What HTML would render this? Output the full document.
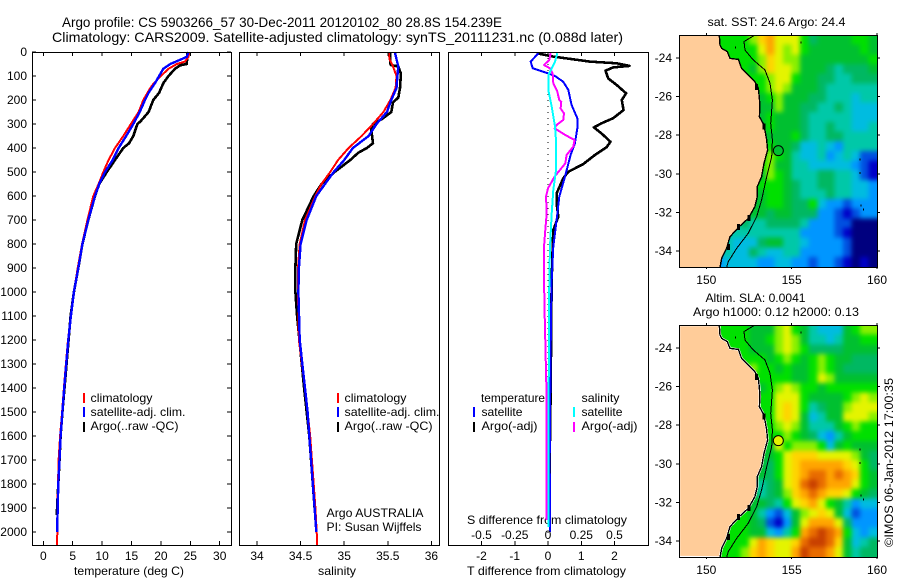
<!DOCTYPE html>
<html lang="en">
<head>
<meta charset="utf-8">
<title>Argo profile chart</title>
<style>
html,body{margin:0;padding:0;background:#fff;}
svg{display:block;}
text{font-family:"Liberation Sans",sans-serif;font-size:12px;fill:#000;}
.crisp{shape-rendering:crispEdges;}
</style>
</head>
<body>
<svg id="chart" xmlns="http://www.w3.org/2000/svg" width="900" height="580" viewBox="0 0 900 580">
  <defs>
    <filter id="soften" x="-5%" y="-5%" width="110%" height="110%" color-interpolation-filters="sRGB">
      <feGaussianBlur stdDeviation="2.4"/>
      <feComponentTransfer><feFuncA type="linear" slope="60"/></feComponentTransfer>
    </filter>
    <clipPath id="clip-sst-map"><rect x="679" y="35" width="199" height="233"/></clipPath>
    <clipPath id="clip-sla-map"><rect x="679" y="325" width="199" height="233"/></clipPath>
  </defs>
  <text x="62" y="27" style="font-size:14px" textLength="440" lengthAdjust="spacingAndGlyphs">Argo profile: CS 5903266_57 30-Dec-2011 20120102_80 28.8S 154.239E</text>
  <text x="52" y="42" style="font-size:14px" textLength="571" lengthAdjust="spacingAndGlyphs">Climatology: CARS2009. Satellite-adjusted climatology: synTS_20111231.nc (0.088d later)</text>

  <text x="74" y="575" textLength="110" lengthAdjust="spacingAndGlyphs">temperature (deg C)</text>
  <text x="318" y="575" textLength="38" lengthAdjust="spacingAndGlyphs">salinity</text>
  <text x="467" y="575" textLength="159" lengthAdjust="spacingAndGlyphs">T difference from climatology</text>
  <text x="467" y="524" textLength="160" lengthAdjust="spacingAndGlyphs">S difference from climatology</text>

  <text x="90.5" y="402" textLength="62" lengthAdjust="spacingAndGlyphs">climatology</text>
  <text x="90.5" y="416" textLength="95" lengthAdjust="spacingAndGlyphs">satellite-adj. clim.</text>
  <text x="90.5" y="430" textLength="88" lengthAdjust="spacingAndGlyphs">Argo(..raw -QC)</text>
  <text x="344.5" y="402" textLength="62" lengthAdjust="spacingAndGlyphs">climatology</text>
  <text x="344.5" y="416" textLength="95" lengthAdjust="spacingAndGlyphs">satellite-adj. clim.</text>
  <text x="344.5" y="430" textLength="88" lengthAdjust="spacingAndGlyphs">Argo(..raw -QC)</text>
  <text x="326.5" y="517" textLength="97" lengthAdjust="spacingAndGlyphs">Argo AUSTRALIA</text>
  <text x="326.5" y="531" textLength="95" lengthAdjust="spacingAndGlyphs">PI: Susan Wijffels</text>

  <text x="481" y="402" textLength="64" lengthAdjust="spacingAndGlyphs">temperature</text>
  <text x="481.5" y="416" textLength="41" lengthAdjust="spacingAndGlyphs">satellite</text>
  <text x="481.5" y="430" textLength="56" lengthAdjust="spacingAndGlyphs">Argo(-adj)</text>
  <text x="581.5" y="402" textLength="38" lengthAdjust="spacingAndGlyphs">salinity</text>
  <text x="581.5" y="416" textLength="41" lengthAdjust="spacingAndGlyphs">satellite</text>
  <text x="581.5" y="430" textLength="56" lengthAdjust="spacingAndGlyphs">Argo(-adj)</text>

  <text x="707.5" y="26" textLength="138" lengthAdjust="spacingAndGlyphs">sat. SST: 24.6 Argo: 24.4</text>
  <text x="705.5" y="302" textLength="100" lengthAdjust="spacingAndGlyphs">Altim. SLA: 0.0041</text>
  <text x="693" y="316" textLength="166" lengthAdjust="spacingAndGlyphs">Argo h1000: 0.12 h2000: 0.13</text>
  <text transform="translate(893,547) rotate(-90)" x="0" y="0" textLength="169" lengthAdjust="spacingAndGlyphs">©IMOS 06-Jan-2012 17:00:35</text>
</svg>

<script>
/* ---------- profile data ---------- */
const depthTicks = [0,100,200,300,400,500,600,700,800,900,1000,1100,1200,1300,1400,1500,1600,1700,1800,1900,2000];
const tempTicks = [0,5,10,15,20,25,30];
const salTicks = [34,34.5,35,35.5,36];
const tDiffTicks = [-2,-1,0,1,2];
const sDiffTicks = [-0.5,-0.25,0,0.25,0.5];
const sDiffTickLabels = ['-0.5','-0.25','0','0.25','0.5'];
const zeroLineDepths = [0,2054];
const zeroLineValues = [0,0];

const climTempDepths = [0,20,40,50,70,100,130,150,200,250,300,350,400,450,500,550,600,700,800,900,1000,1100,1200,1300,1400,1500,1600,1700,1800,1900,2000,2054];
const climTempValues = [24.84,24.7,24.1,22.7,21.3,20.0,18.8,18.2,17.0,16.2,14.9,13.6,12.2,11.1,10.2,9.4,8.5,7.5,6.6,5.85,5.2,4.7,4.2,3.85,3.5,3.2,2.85,2.6,2.5,2.4,2.4,2.3];
const satTempDepths = [0,20,30,50,70,100,130,170,200,250,300,350,400,450,500,550,600,700,800,900,1000,1100,1200,1300,1400,1500,1600,1700,1800,1900,2000];
const satTempValues = [24.7,24.4,23.5,21.6,20.4,19.7,19,17.9,17.3,16.4,15.3,14.1,12.8,11.8,10.5,9.5,8.8,7.66,6.65,5.95,5.2,4.7,4.25,3.9,3.55,3.25,2.95,2.75,2.55,2.45,2.35];
const argoTempDepths = [0,50,55,70,100,130,170,200,250,290,300,350,380,400,450,500,550,600,700,800,900,1000,1100,1400,1500,1600,1700,1800,1900,1930];
const argoTempValues = [24.5,24.4,23.3,22.4,21.3,20.4,19.7,18.7,17.9,16.5,16,15.3,14.6,13.6,12.2,10.8,9.5,8.8,7.66,6.65,5.95,5.2,4.65,3.6,3.25,2.95,2.75,2.55,2.35,2.3];

const climSalDepths = [0,30,60,100,150,200,250,300,350,400,450,500,550,600,700,800,900,1000,1200,1400,1500,1600,1700,1800,1900,2000,2054];
const climSalValues = [35.51,35.52,35.56,35.6,35.59,35.53,35.45,35.33,35.2,35.05,34.93,34.84,34.74,34.67,34.55,34.49,34.47,34.47,34.48,34.55,34.58,34.61,34.63,34.65,34.67,34.685,34.69];
const satSalDepths = [0,30,60,100,150,200,250,300,350,400,450,500,550,600,700,800,900,1000,1200,1400,1500,1600,1700,1800,1900,2000];
const satSalValues = [35.58,35.6,35.62,35.61,35.6,35.54,35.49,35.37,35.28,35.1,35.0,34.88,34.78,34.68,34.57,34.5,34.48,34.475,34.49,34.55,34.58,34.6,34.62,34.64,34.66,34.68];
const argoSalDepths = [0,50,55,60,90,150,190,210,250,280,300,320,380,400,420,450,500,550,600,700,800,900,1000,1100,1400,1600,1900,1930];
const argoSalValues = [35.53,35.53,35.54,35.62,35.65,35.64,35.62,35.56,35.54,35.43,35.33,35.31,35.33,35.26,35.16,35.07,34.89,34.74,34.65,34.52,34.45,34.44,34.44,34.46,34.54,34.6,34.66,34.67];

const satTDiffDepths = [5,40,68,89,100,124,158,221,276,311,381,429,519,603,700,811,950,1100,1400,1700,2000];
const satTDiffValues = [-0.29,-0.52,-0.46,0.01,0.21,0.46,0.61,0.71,0.88,0.89,0.81,0.68,0.51,0.34,0.26,0.16,0.11,0.09,0.07,0.05,0.06];
const argoTDiffDepths = [5,19,40,47,58,64,78,110,138,172,200,242,276,297,314,339,374,397,429,467,499,526,589,631,686,742,811,950,1100,1400,1700,1900];
const argoTDiffValues = [-0.34,0.16,1.26,2.07,2.45,1.96,1.73,1.81,2.07,2.35,2.22,2.27,1.96,1.61,1.38,1.61,1.88,1.76,1.41,1.06,0.61,0.46,0.26,0.26,0.31,0.16,0.14,0.11,0.1,0.08,0.05,0.04];
const argoSDiffDepths = [5,33,54,68,89,131,165,200,207,235,256,283,304,318,346,367,394,429,464,519,568,603,672,742,811,950,1100,1400,1700,1950];
const argoSDiffValues = [0.02,0.01,-0.03,0.015,0.035,0.04,0.07,0.085,0.10,0.095,0.12,0.115,0.065,0.05,0.13,0.20,0.19,0.14,0.13,0.05,0.0,-0.015,-0.01,-0.02,-0.03,-0.03,-0.025,-0.012,-0.012,-0.012];
const satSDiffDepths = [5,40,68,96,158,228,311,367,492,575,672,811,950,1400,1980];
const satSDiffValues = [0.07,0.053,0.028,0.0025,0.0025,0.028,0.053,0.06,0.06,0.04,0.028,0.015,0.01,0.005,0.005];

/* ---------- map data ---------- */
const lonTicks = [150,155,160];
const latTicks = [-24,-26,-28,-30,-32,-34];
const firstCellLon = 150.5;
const firstCellLat = -22.81;
const cellDegrees = 0.5;
const argoLon = 154.22;
const argoLat = -28.8;
const argoSstLevel = 7;
const argoSlaLevel = 10;

const sstLevels = [
[8,8,8,8,9,11,12,10,10,10,8,6,7,7,7,7,8,8,7],
[8,8,8,8,8,10,12,10,9,10,8,7,7,7,7,7,7,8,7],
[8,8,8,8,8,9,11,10,9,9,7,7,7,7,7,7,7,7,8],
[8,8,8,8,7,9,11,10,10,9,7,7,7,6,5,6,6,6,7],
[8,8,8,8,8,8,9,10,10,8,7,7,6,6,5,5,6,6,6],
[8,8,8,8,8,8,9,10,9,7,7,7,6,5,5,5,5,5,5],
[8,8,8,7,7,7,8,9,7,7,7,6,6,5,5,5,4,5,5],
[8,8,8,7,7,7,7,9,7,7,6,6,5,5,6,5,4,4,4],
[8,8,8,7,7,7,8,7,7,7,6,5,5,5,5,5,4,4,4],
[8,8,8,7,7,7,8,7,7,7,6,5,5,6,5,5,4,4,5],
[8,8,8,7,7,7,7,7,7,8,6,5,5,6,6,5,5,5,5],
[8,8,8,7,7,7,8,7,7,6,4,4,5,4,3,5,5,5,5],
[8,8,8,7,7,7,9,8,7,5,4,4,5,3,4,5,4,2,2],
[8,8,8,7,7,8,9,7,7,5,5,4,4,4,4,4,3,2,1],
[8,8,8,7,7,7,9,8,7,5,5,5,6,6,5,5,4,2,1],
[8,8,8,7,7,8,8,8,7,6,5,5,6,6,5,5,4,4,3],
[8,8,8,7,7,7,8,8,7,6,5,5,5,6,5,5,4,4,3],
[8,8,8,7,7,7,8,8,7,6,6,8,4,3,3,2,3,3,3],
[8,8,8,7,7,7,6,7,7,6,6,6,3,3,2,1,2,3,3],
[5,5,5,6,5,5,6,6,6,6,5,3,3,3,2,2,0,0,0],
[5,5,5,5,5,5,5,5,5,5,3,3,3,3,2,1,0,0,0],
[5,5,4,4,4,6,7,7,5,5,4,3,3,3,3,2,0,0,0],
[4,5,4,4,6,5,4,4,5,5,3,3,3,3,3,2,0,0,0],
[3,4,4,4,4,3,3,4,4,3,3,2,3,3,2,1,0,1,0]
];
const slaLevels = [
[8,8,8,8,7,7,7,9,10,8,7,5,4,4,4,7,8,9,9],
[8,8,8,8,7,7,8,9,10,9,7,5,5,4,5,7,7,8,8],
[8,8,8,8,7,7,7,9,10,9,8,6,6,6,6,7,7,7,7],
[8,8,8,8,8,8,7,8,9,8,7,8,9,8,7,7,6,6,6],
[8,8,8,8,9,8,8,7,8,7,7,8,9,8,7,6,6,6,6],
[8,8,8,8,8,8,8,8,8,7,7,8,10,9,7,7,7,7,7],
[8,8,8,8,8,7,8,9,10,9,8,8,7,8,8,8,8,8,8],
[8,8,8,8,8,8,8,10,10,10,8,7,7,7,7,8,9,10,9],
[8,8,8,8,8,8,8,10,11,10,8,5,6,7,7,9,10,10,10],
[8,8,8,8,8,8,8,10,11,10,7,4,5,7,7,10,10,10,9],
[8,8,8,8,8,8,8,9,10,9,7,5,5,5,7,8,9,8,8],
[8,8,8,8,8,8,8,8,9,8,7,6,4,3,5,7,8,8,8],
[8,8,8,8,8,8,7,10,8,9,9,9,8,4,7,8,7,7,7],
[8,8,8,8,7,7,7,8,10,11,11,11,10,10,10,10,9,7,6],
[8,8,8,8,7,7,6,8,10,11,12,12,12,12,12,11,10,8,6],
[8,8,8,8,7,7,6,8,10,11,12,13,13,12,13,12,11,8,7],
[8,8,8,8,7,5,6,7,10,11,13,14,13,12,12,12,10,8,7],
[8,8,8,8,7,5,6,7,9,11,12,13,12,11,11,10,8,7,6],
[8,8,8,8,7,7,6,5,8,10,11,12,10,8,7,5,3,4,4],
[8,8,8,8,7,5,3,2,4,7,9,10,11,10,7,4,2,3,3],
[8,8,8,8,7,6,2,1,3,7,10,12,12,12,10,6,3,3,3],
[8,8,8,8,7,7,4,3,5,8,12,13,14,13,12,8,4,3,4],
[8,8,8,8,10,12,11,10,10,11,13,14,14,13,11,7,4,5,6],
[8,8,8,9,11,12,11,10,10,12,14,13,13,12,10,7,5,6,6]
];
const coastLons = [150.76,150.80,150.90,151.23,151.39,151.88,152.07,152.56,152.85,153.05,153.11,153.14,153.11,153.38,153.54,153.59,153.38,153.24,152.99,152.99,152.85,152.46,151.93,151.39,151.19,150.90,150.80];
const coastLats = [-22.81,-23.33,-23.50,-23.67,-24.02,-24.07,-24.54,-24.97,-25.23,-25.57,-26.09,-26.52,-27.04,-27.47,-28.25,-28.77,-29.46,-30.15,-30.67,-31.18,-31.70,-32.31,-32.74,-33.26,-33.86,-34.38,-34.85];
const isobathLons = [152.85,152.21,152.27,152.75,153.44,153.73,153.87,153.77,153.87,153.83,153.54,153.24,152.95,152.46,151.78,151.29,151.19];
const isobathLats = [-22.81,-23.15,-23.59,-24.10,-24.62,-25.31,-26.18,-27.39,-28.25,-29.11,-30.15,-31.36,-32.22,-33.08,-33.86,-34.55,-34.85];
const reefLons = [152.95,153.38,151.29,151.9,152.5,159.0,159.0,159.05,159.2,155.55,151.7];
const reefLats = [-25.5,-27.55,-33.8,-32.75,-32.3,-29.25,-29.95,-31.65,-31.85,-23.2,-23.45];

const levelColors = ['#00007f','#0000c8','#0050e0','#0096ff','#00bce0','#00c8a8','#00b862','#00c030','#00e000','#88f000','#e4f400','#ffd400','#ffa500','#e86c00','#c84000'];
const landColor = '#ffcc99';

/* ---------- axis functions ---------- */
const svg = document.getElementById('chart');
const NS = 'http://www.w3.org/2000/svg';
function make(tag, attrs, parent) {
  const n = document.createElementNS(NS, tag);
  for (const k in attrs) n.setAttribute(k, attrs[k]);
  (parent || svg).appendChild(n);
  return n;
}
const top0 = 52, bottom0 = 545;
const yDepth = d => top0 + d * 0.24;
const xTemp = t => 43.3 + t * 5.88;
const xSal = s => 257 + (s - 34) * 87.2;
const xTD = t => 548 + t * 33.25;
const xSD = s => 548 + s * 133;

function seriesLine(name, xf, depths, values, color, width, dash) {
  const pts = depths.map((d, i) => xf(values[i]).toFixed(1) + ',' + yDepth(d).toFixed(1)).join(' ');
  const line = make('polyline', {points: pts, fill: 'none', stroke: color, 'stroke-width': width, 'stroke-linejoin': 'round', class: 'crisp'});
  if (dash) line.setAttribute('stroke-dasharray', dash);
  
  
}
function tick(name, x1, y1, x2, y2) {
  const t = make('line', {x1: x1, y1: y1, x2: x2, y2: y2, stroke: '#000', 'stroke-width': 1, class: 'crisp'});
  
  
}
function label(name, x, y, str, anchor) {
  const t = make('text', {x: x, y: y, 'text-anchor': anchor || 'middle'});
  t.textContent = str;
  
  
}
function frame(name, x, y, w, h) {
  const f = make('rect', {x: x + 0.5, y: y + 0.5, width: w, height: h, fill: 'none', stroke: '#000', 'stroke-width': 1, class: 'crisp'});
  
  
}
function legendBar(name, x, y, color) {
  const b = make('rect', {x: x, y: y, width: 2, height: 10, fill: color, class: 'crisp'});
  
  
}

/* ---------- panel 1: temperature ---------- */
seriesLine('argo-temperature-line', xTemp, argoTempDepths, argoTempValues, '#000', 2.6);
seriesLine('climatology-temperature-line', xTemp, climTempDepths, climTempValues, '#ff0000', 2);
seriesLine('satellite-temperature-line', xTemp, satTempDepths, satTempValues, '#0000ff', 2.4);
frame('temperature-panel-frame', 32, 52, 199, 493);
depthTicks.forEach(d => {
  tick('depth-tick-left', 32, yDepth(d), 36, yDepth(d));
  tick('depth-tick-right', 227, yDepth(d), 231, yDepth(d));
  label('depth-tick-label', 27, yDepth(d) + 4, String(d), 'end');
});
tempTicks.forEach(t => {
  tick('temperature-tick-top', xTemp(t), 52, xTemp(t), 56);
  tick('temperature-tick-bottom', xTemp(t), 541, xTemp(t), 545);
  label('temperature-tick-label', xTemp(t), 560, String(t));
});
legendBar('legend-climatology-swatch', 83, 393, '#ff0000');
legendBar('legend-satellite-swatch', 83, 407, '#0000ff');
legendBar('legend-argo-swatch', 83, 422, '#000');

/* ---------- panel 2: salinity ---------- */
seriesLine('argo-salinity-line', xSal, argoSalDepths, argoSalValues, '#000', 2.6);
seriesLine('climatology-salinity-line', xSal, climSalDepths, climSalValues, '#ff0000', 2);
seriesLine('satellite-salinity-line', xSal, satSalDepths, satSalValues, '#0000ff', 2.4);
frame('salinity-panel-frame', 239, 52, 200, 493);
salTicks.forEach(s => {
  tick('salinity-tick-top', xSal(s), 52, xSal(s), 56);
  tick('salinity-tick-bottom', xSal(s), 541, xSal(s), 545);
  label('salinity-tick-label', xSal(s), 560, String(s));
});
legendBar('legend-climatology-swatch-2', 337, 393, '#ff0000');
legendBar('legend-satellite-swatch-2', 337, 407, '#0000ff');
legendBar('legend-argo-swatch-2', 337, 422, '#000');

/* ---------- panel 3: differences ---------- */
seriesLine('zero-difference-line', xTD, zeroLineDepths, zeroLineValues, '#000', 1, '1 5');
seriesLine('argo-t-difference-line', xTD, argoTDiffDepths, argoTDiffValues, '#000', 2.6);
seriesLine('satellite-t-difference-line', xTD, satTDiffDepths, satTDiffValues, '#0000ff', 2);
seriesLine('argo-s-difference-line', xSD, argoSDiffDepths, argoSDiffValues, '#ff00ff', 2);
seriesLine('satellite-s-difference-line', xSD, satSDiffDepths, satSDiffValues, '#00ffff', 2);
frame('difference-panel-frame', 448, 52, 200, 493);
tDiffTicks.forEach(t => {
  tick('t-difference-tick-top', xTD(t), 52, xTD(t), 56);
  tick('t-difference-tick-bottom', xTD(t), 541, xTD(t), 545);
  label('t-difference-tick-label', xTD(t), 560, String(t));
});
sDiffTicks.forEach((s, i) => {
  label('s-difference-tick-label', xSD(s), 539, sDiffTickLabels[i]);
});
legendBar('legend-t-satellite-swatch', 473, 407, '#0000ff');
legendBar('legend-t-argo-swatch', 473, 422, '#000');
legendBar('legend-s-satellite-swatch', 573, 407, '#00ffff');
legendBar('legend-s-argo-swatch', 573, 422, '#ff00ff');

/* ---------- maps ---------- */
function drawMap(prefix, top, levels, circleLevel, fringe) {
  const xLon = lon => 706.3 + (lon - 150) * 17.07;
  const yLat = lat => top + 23 + (-24 - lat) * 19.3;
  const left = 679, right = 877, bottom = top + 232;

  const clipGroup = make('g', {'clip-path': 'url(#clip-' + prefix + ')'});
  
  
  const cells = make('g', {filter: 'url(#soften)'}, clipGroup);
  
  

  levels.forEach((row, r) => {
    row.forEach((v, c) => {
      const x0 = xLon(firstCellLon + c * cellDegrees);
      const x1 = xLon(firstCellLon + (c + 1) * cellDegrees);
      const y0 = yLat(firstCellLat - r * cellDegrees);
      const y1 = yLat(firstCellLat - (r + 1) * cellDegrees);
      const cell = make('rect', {x: x0.toFixed(1), y: y0.toFixed(1), width: (x1 - x0 + 0.5).toFixed(1), height: (y1 - y0 + 0.3).toFixed(1), fill: levelColors[v], class: 'crisp'}, cells);
      
      
    });
  });

  const coastPts = coastLons.map((lon, i) => xLon(lon).toFixed(1) + ',' + yLat(coastLats[i]).toFixed(1));
  const land = make('polygon', {points: [left + ',' + top].concat(coastPts, [left + ',' + bottom]).join(' '), fill: landColor, stroke: fringe ? '#fff' : 'none', 'stroke-width': fringe ? 2.4 : 0});
  
  

  const coast = make('polyline', {points: coastPts.join(' '), fill: 'none', stroke: '#000', 'stroke-width': 1.4, class: 'crisp'});
  
  

  const iso = make('polyline', {points: isobathLons.map((lon, i) => xLon(lon).toFixed(1) + ',' + yLat(isobathLats[i]).toFixed(1)).join(' '), fill: 'none', stroke: '#000', 'stroke-width': 1, class: 'crisp'});
  
  

  reefLons.forEach((lon, i) => {
    const big = i < 5;
    const reef = make('rect', {x: (xLon(lon) - (big ? 1.5 : 0.5)).toFixed(1), y: (yLat(reefLats[i]) - (big ? 3 : 1)).toFixed(1), width: big ? 3 : 1, height: big ? 6 : 2, fill: '#000', class: 'crisp'});
    
    
  });

  const marker = make('circle', {cx: xLon(argoLon), cy: yLat(argoLat), r: 5, fill: levelColors[circleLevel], stroke: '#000', 'stroke-width': 1});
  
  

  frame(prefix + '-frame', left, top, right - left, 232);

  lonTicks.forEach(lon => {
    tick(prefix + '-lon-tick-top', xLon(lon), top - 2, xLon(lon), top);
    tick(prefix + '-lon-tick-bottom', xLon(lon), bottom, xLon(lon), bottom + 2);
    label(prefix + '-lon-label', xLon(lon), bottom + 17, String(lon));
  });
  latTicks.forEach(lat => {
    tick(prefix + '-lat-tick-left', left - 3, yLat(lat), left, yLat(lat));
    tick(prefix + '-lat-tick-right', right, yLat(lat), right + 3, yLat(lat));
    label(prefix + '-lat-label', 672, yLat(lat) + 4, String(lat), 'end');
  });
}
drawMap('sst-map', 35, sstLevels, argoSstLevel, false);
drawMap('sla-map', 325, slaLevels, argoSlaLevel, true);
</script>
</body>
</html>
